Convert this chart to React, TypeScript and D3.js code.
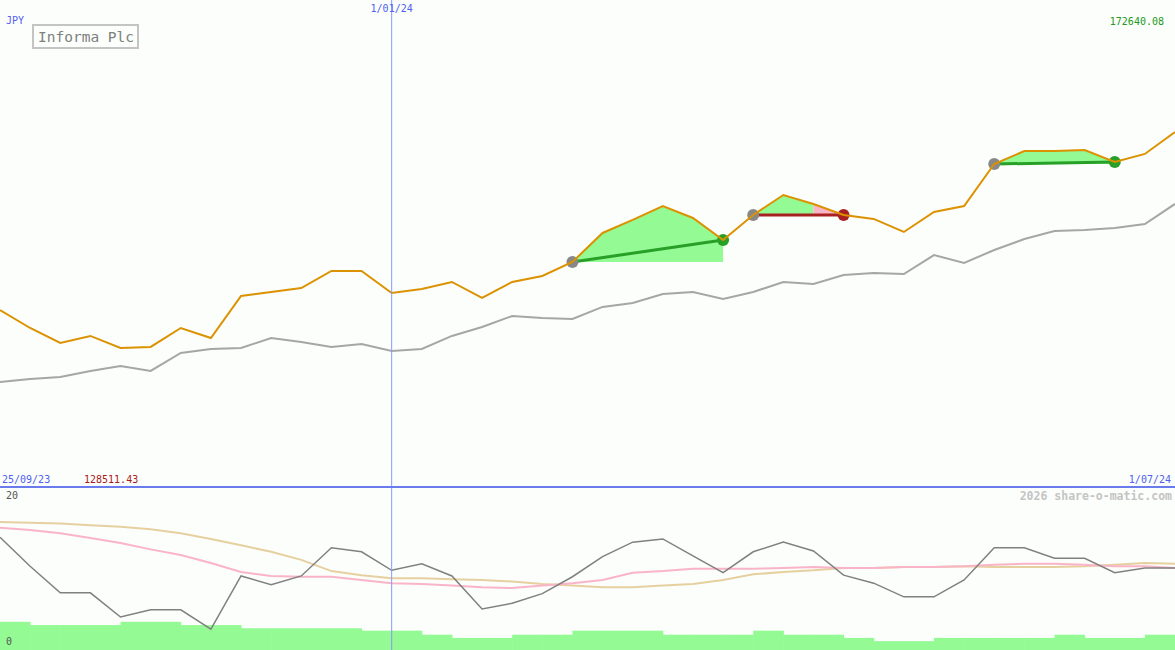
import { useEffect } from 'react'
import * as d3 from 'd3'

// weekly closes, index 0 = 25/09/23
const price = [
  144550, 142920, 141560, 142200, 141110, 141200, 142920, 142010, 145820, 146180,
  146540, 148090, 148090, 146090, 146450, 147090, 145640, 147090, 147630, 148900,
  151530, 152710, 153970, 152890, 150890, 153160, 154970, 154160, 153160, 152800,
  151620, 153430, 153970, 157780, 158960, 158960, 159050, 157960, 158690, 160680,
]
const bench = [
  138030, 138300, 138480, 139030, 139480, 139030, 140660, 141020, 141110, 142010,
  141650, 141200, 141470, 140840, 141020, 142200, 143010, 144010, 143830, 143740,
  144830, 145190, 146000, 146180, 145550, 146180, 147090, 146900, 147720, 147900,
  147810, 149530, 148810, 149990, 150980, 151710, 151800, 151980, 152340, 154160,
]
const osc = [
  14.0, 10.4, 7.1, 7.1, 4.1, 5.0, 5.0, 2.6, 9.2, 8.1,
  9.2, 12.7, 12.2, 9.9, 10.7, 9.2, 5.1, 5.8, 7.0, 9.1,
  11.6, 13.4, 13.8, 11.7, 9.6, 12.2, 13.4, 12.3, 9.3, 8.3,
  6.6, 6.6, 8.7, 12.7, 12.7, 11.4, 11.4, 9.6, 10.2, 10.2,
]
const maFast = [
  15.2, 14.9, 14.5, 13.9, 13.3, 12.5, 11.8, 10.8, 9.7, 9.2,
  9.1, 9.1, 8.7, 8.3, 8.2, 8.0, 7.8, 7.7, 8.0, 8.3,
  8.7, 9.6, 9.8, 10.1, 10.1, 10.1, 10.2, 10.3, 10.2, 10.2,
  10.3, 10.3, 10.4, 10.6, 10.7, 10.7, 10.6, 10.4, 10.4, 10.2,
]
const maSlow = [
  15.9, 15.8, 15.7, 15.5, 15.3, 15.0, 14.5, 13.8, 13.0, 12.2,
  11.2, 9.8, 9.3, 8.9, 8.9, 8.8, 8.7, 8.5, 8.2, 8.0,
  7.8, 7.8, 8.0, 8.2, 8.7, 9.4, 9.7, 9.9, 10.2, 10.2,
  10.3, 10.3, 10.4, 10.3, 10.3, 10.3, 10.4, 10.6, 10.8, 10.7,
]
const volume = [
  3.5, 3.1, 3.1, 3.1, 3.5, 3.5, 3.1, 3.1, 2.7, 2.7,
  2.7, 2.7, 2.4, 2.4, 1.9, 1.5, 1.5, 1.9, 1.9, 2.4,
  2.4, 2.4, 1.9, 1.9, 1.9, 2.4, 1.9, 1.9, 1.5, 1.1,
  1.1, 1.5, 1.5, 1.5, 1.5, 1.9, 1.5, 1.5, 1.9,
]
// trades: entry / exit index
const trades = [
  { entry: 19, exit: 24, win: true },
  { entry: 25, exit: 28, win: false },
  { entry: 33, exit: 37, win: true },
]
const dateLabels = ['25/09/23', '1/01/24', '1/07/24']
const priceMin = 128511.43
const priceMax = 172640.08

const W = 1175
const H = 650
const font = "'DejaVu Sans Mono', monospace"

export default function App() {
  useEffect(() => {
    document.body.style.margin = '0'
  }, [])

  const x = d3.scaleLinear().domain([0, price.length - 1]).range([0, W])
  const y = d3.scaleLinear().domain([priceMin, priceMax]).range([487, 0])
  const yl = d3.scaleLinear().domain([0, 20]).range([650, 489])

  const line = d3.line<number>().x((_, i) => x(i)).y(d => y(d))
  const lowLine = d3.line<number>().x((_, i) => x(i)).y(d => yl(d))
  const step = x(1) - x(0)

  // area between price and the entry level
  const fillPath = (from: number, to: number, base: number) => {
    const pts: [number, number][] = []
    for (let i = from; i <= to; i++) pts.push([x(i), y(price[i])])
    pts.push([x(to), y(base)], [x(from), y(base)])
    return 'M' + pts.map(p => p.join(',')).join('L') + 'Z'
  }

  return (
    <svg width={W} height={H} style={{ display: 'block', background: '#fbfefb' }}>
      <rect width={W} height={H} fill="#fbfefb" />

      {/* volume */}
      {volume.map((v, i) => (
        <rect key={i} x={x(i)} y={yl(v)} width={step + 0.5} height={650 - yl(v)} fill="#94fa94" />
      ))}

      {/* trades fills */}
      {trades.map((t, k) => {
        const base = price[t.entry]
        if (t.win) return <path key={k} d={fillPath(t.entry, t.exit, base)} fill="#94fa94" />
        return (
          <g key={k}>
            <path d={fillPath(t.entry, t.exit - 1, base)} fill="#94fa94" />
            <path d={fillPath(t.exit - 1, t.exit, base)} fill="#f9b4c8" />
          </g>
        )
      })}

      <path d={line(bench)!} fill="none" stroke="#a6a6a6" strokeWidth={2} />

      {trades.map((t, k) => (
        <line key={k} x1={x(t.entry)} y1={y(price[t.entry])} x2={x(t.exit)} y2={y(price[t.exit])}
          stroke={t.win ? '#28a028' : '#a82020'} strokeWidth={3} />
      ))}
      {trades.map((t, k) => (
        <g key={k}>
          <circle cx={x(t.entry)} cy={y(price[t.entry])} r={6} fill="#888888" />
          <circle cx={x(t.exit)} cy={y(price[t.exit])} r={6} fill={t.win ? '#28a028' : '#a82020'} />
        </g>
      ))}

      <path d={line(price)!} fill="none" stroke="#dc9200" strokeWidth={2} />

      {/* lower pane */}
      <path d={lowLine(maSlow)!} fill="none" stroke="#e6d0a0" strokeWidth={2} />
      <path d={lowLine(maFast)!} fill="none" stroke="#fab4c8" strokeWidth={2} />
      <path d={lowLine(osc)!} fill="none" stroke="#808080" strokeWidth={1.5} />

      {/* frame lines */}
      <line x1={x(13)} x2={x(13)} y1={0} y2={H} stroke="#8899ff" strokeWidth={1} />
      <line x1={0} x2={W} y1={487} y2={487} stroke="#6a7ced" strokeWidth={2} />

      {/* legend */}
      <rect x={33} y={25} width={105} height={23} fill="#fbfefb" stroke="#c4c4c4" strokeWidth={2} />
      <text x={38} y={42} fontFamily={font} fontSize={14.5} fill="#808080">Informa Plc</text>

      <g fontFamily={font} fontSize={10}>
        <text x={6} y={24} fill="#5060f0">JPY</text>
        <text x={x(13)} y={12} fill="#5060f0" textAnchor="middle">{dateLabels[1]}</text>
        <text x={1164} y={25} fill="#229922" textAnchor="end">{priceMax.toFixed(2)}</text>
        <text x={2} y={483} fill="#5060f0">{dateLabels[0]}</text>
        <text x={84} y={483} fill="#aa1a1a">{priceMin.toFixed(2)}</text>
        <text x={1171} y={483} fill="#5060f0" textAnchor="end">{dateLabels[2]}</text>
        <text x={6} y={499} fill="#555555">20</text>
        <text x={6} y={645} fill="#555555">0</text>
        <text x={1172} y={500} fill="#c4c4c4" textAnchor="end" fontSize={11.5} fontWeight="bold">2026 share-o-matic.com</text>
      </g>
    </svg>
  )
}
